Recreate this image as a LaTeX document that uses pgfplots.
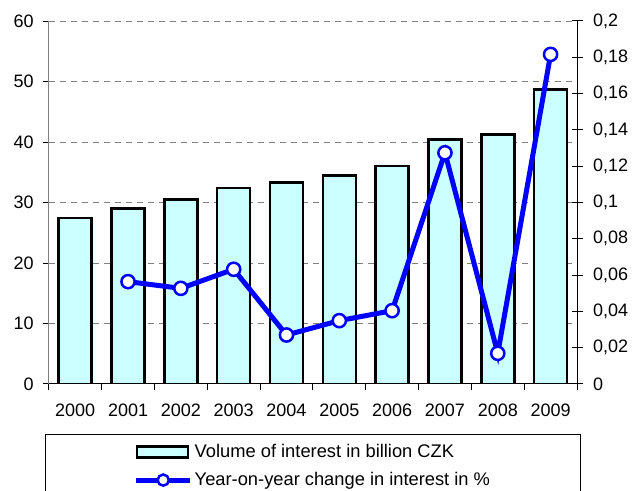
\documentclass[border=0pt]{standalone}
\usepackage{pgfplots}
\pgfplotsset{compat=1.18}
\usepackage{fontspec}
\setmainfont{Liberation Sans}
\definecolor{barfill}{HTML}{CCFFFF}
\definecolor{lineblue}{HTML}{0000FF}
\definecolor{gridgray}{HTML}{808080}
\begin{document}
\begin{tikzpicture}[font=\fontsize{18bp}{21bp}\selectfont]
\useasboundingbox (0,0) rectangle (639bp,491bp);
\begin{axis}[
  at={(48.8bp,107bp)}, anchor=south west,
  scale only axis, width=528.2bp, height=363bp,
  xmin=-0.5, xmax=9.5, ymin=0, ymax=60,
  axis x line*=bottom, axis y line*=left,
  x axis line style={black, line width=1bp},
  y axis line style={gridgray, line width=1bp},
  /pgf/number format/assume math mode=true,
  xtick={0,...,9},
  xticklabels={2000,2001,2002,2003,2004,2005,2006,2007,2008,2009},
  minor xtick={-0.5,0.5,...,9.5},
  major x tick style={draw=none},
  minor x tick style={black, line width=1bp},
  ytick={0,10,...,60},
  ytick style={black, line width=1bp},
  tick align=outside,
  major tick length=6bp, minor tick length=6bp,
  xticklabel style={inner sep=0pt, anchor=north, yshift=-14bp},
  yticklabel style={inner sep=0pt, anchor=east, xshift=-9bp},
  ymajorgrids,
  grid style={gridgray, line width=1bp, dash pattern=on 6bp off 5bp},
  legend style={at={(0.5,-0.1377)}, anchor=north, draw=black, line width=1bp,
    inner xsep=88bp, inner ysep=8bp, row sep=9.5bp,
    font=\fontsize{18.3bp}{21bp}\selectfont},
  legend cell align=left,
]
\addplot[ybar, bar width=33bp, fill=barfill, draw=black, line width=2.5bp,
  legend image code/.code={\draw[fill=barfill, draw=black, line width=2.5bp] (0bp,-5.5bp) rectangle (51bp,5.5bp);}]
  coordinates {(0,27.4) (1,29.0) (2,30.5) (3,32.4) (4,33.3) (5,34.5) (6,36.0) (7,40.4) (8,41.2) (9,48.7)};
\addlegendentry{Volume of interest in billion CZK}
\addlegendimage{legend image code/.code={
    \draw[draw=lineblue, line width=5bp] (-1bp,0bp) -- (53bp,0bp);
    \draw[draw=lineblue, fill=white, line width=2.5bp] (26bp,0bp) circle (5.6bp);}}
\addlegendentry{Year-on-year change in interest in \%}
\end{axis}
\begin{axis}[
  at={(48.8bp,107bp)}, anchor=south west,
  scale only axis, width=528.2bp, height=363bp,
  xmin=-0.5, xmax=9.5, ymin=0, ymax=0.2,
  axis x line=none, axis y line*=right,
  y axis line style={black, line width=1bp},
  /pgf/number format/assume math mode=true,
  ytick={0,0.02,0.04,0.06,0.08,0.1,0.12,0.14,0.16,0.18,0.2},
  yticklabels={0,{0,02},{0,04},{0,06},{0,08},{0,1},{0,12},{0,14},{0,16},{0,18},{0,2}},
  ytick style={black, line width=1bp},
  tick align=center, major tick length=11bp,
  yticklabel style={inner sep=0pt, anchor=west, xshift=10.5bp},
  clip=false,
]
\addplot[draw=lineblue, line width=5bp, mark=*, mark size=6.6bp,
  mark options={draw=lineblue, fill=white, line width=2.5bp}]
  coordinates {(1,0.0564) (2,0.0527) (3,0.0632) (4,0.0270) (5,0.0349) (6,0.0404) (7,0.1274) (8,0.0169) (9,0.1816)};
\end{axis}
\end{tikzpicture}
\end{document}
